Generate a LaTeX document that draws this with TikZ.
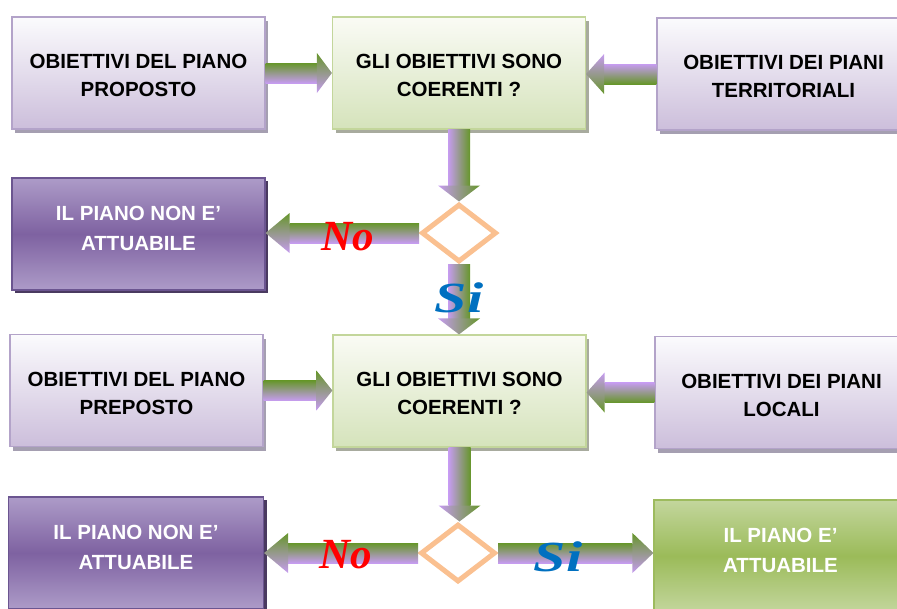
\documentclass[tikz,border=0pt]{standalone}
\usepackage{fontspec}
\setmainfont{Liberation Sans}
\newfontfamily\lblfont{Liberation Serif}
\usetikzlibrary{shapes.geometric,shadows,calc}

\definecolor{agreen}{HTML}{66962A}
\definecolor{apurple}{HTML}{C69CF0}
\definecolor{lpTop}{HTML}{FBFBFD}
\definecolor{lpBot}{HTML}{CCBEDB}
\definecolor{lpEdge}{HTML}{B3A3C9}
\definecolor{lpShadow}{HTML}{A59FB1}
\definecolor{qTop}{HTML}{FAFBF5}
\definecolor{qBot}{HTML}{D5E3BB}
\definecolor{qEdge}{HTML}{C3D69B}
\definecolor{qShadow}{HTML}{A8AB9E}
\definecolor{dpLight}{HTML}{AD9BC8}
\definecolor{dpDark}{HTML}{7E62A1}
\definecolor{dpEdge}{HTML}{6B5590}
\definecolor{dpShadow}{HTML}{4A3A60}
\definecolor{gLight}{HTML}{C3D69D}
\definecolor{gDark}{HTML}{9BBB59}
\definecolor{gEdge}{HTML}{9DBB5E}
\definecolor{gShadow}{HTML}{6E8640}
\definecolor{dOrange}{HTML}{FAC090}
\definecolor{noRed}{HTML}{FF0000}
\definecolor{siBlue}{HTML}{0070C0}

\newcommand\topstrut{\rule{0pt}{20pt}}
\newcommand\botstrut{\rule[-12pt]{0pt}{12pt}}

% horizontal block arrow: from, to, top colour, bottom colour, head length
\newcommand\harrow[5]{%
  \shade[top color=#3,bottom color=#4] let \p1=(#1), \p2=(#2), \n1={sign(\x2-\x1)} in
    (\x1,{\y1-10pt}) rectangle ({\x2-(\n1)*(#5)},{\y1+10pt});
  \shade[top color=#3,bottom color=#4] let \p1=(#1), \p2=(#2), \n1={sign(\x2-\x1)} in
    ({\x2-(\n1)*(#5)},{\y1+20pt}) -- (\x2,\y1) -- ({\x2-(\n1)*(#5)},{\y1-20pt}) -- cycle;
}
% vertical (downward) block arrow: from, to, left colour, right colour
\newcommand\varrow[4]{%
  \shade[left color=#3,right color=#4] let \p1=(#1), \p2=(#2) in
    ({\x1-11pt},\y1) rectangle ({\x1+11pt},{\y2+16pt});
  \shade[left color=#3,right color=#4] let \p1=(#1), \p2=(#2) in
    ({\x1-21pt},{\y2+16pt}) -- (\x1,\y2) -- ({\x1+21pt},{\y2+16pt}) -- cycle;
}

\tikzset{
  box/.style={rectangle, minimum width=253pt, minimum height=112pt, inner sep=0pt,
    line width=1.2pt, align=center, font=\fontsize{20.5}{28}\selectfont\bfseries},
  lbox/.style={box, draw=lpEdge, top color=lpTop, bottom color=lpBot,
    drop shadow={shadow xshift=3pt, shadow yshift=-4pt, fill=lpShadow, opacity=1}},
  qbox/.style={box, draw=qEdge, top color=qTop, bottom color=qBot,
    drop shadow={shadow xshift=3pt, shadow yshift=-4pt, fill=qShadow, opacity=1}},
  nbox/.style={box, draw=dpEdge, top color=dpLight, bottom color=dpLight, middle color=dpDark,
    text=white, font=\fontsize{20.5}{30}\selectfont\bfseries,
    drop shadow={shadow xshift=3pt, shadow yshift=-3pt, fill=dpShadow, opacity=1}},
  ybox/.style={box, draw=gEdge, top color=gLight, bottom color=gLight, middle color=gDark,
    text=white, font=\fontsize{20.5}{30}\selectfont\bfseries,
    drop shadow={shadow xshift=3pt, shadow yshift=-3pt, fill=gShadow, opacity=1}},
  choice/.style={diamond, draw=dOrange, line width=5pt, fill=white,
    minimum width=75pt, minimum height=58pt, inner sep=0pt},
  nolbl/.style={font=\lblfont\bfseries\itshape\fontsize{43}{43}\selectfont, text=noRed, inner sep=0pt},
  silbl/.style={font=\lblfont\bfseries\itshape\fontsize{43}{43}\selectfont, text=siBlue, inner sep=0pt},
}

\begin{document}
\begin{tikzpicture}[x=1pt,y=-1pt]
\useasboundingbox (0,0) rectangle (897,608);
\clip (0,0) rectangle (897,608);

% boxes
\node[lbox] (A) at (138.5,73) {\topstrut OBIETTIVI DEL PIANO\\PROPOSTO};
\node[qbox] (B) at (459,73) {\topstrut GLI OBIETTIVI SONO\\COERENTI ?};
\node[lbox] (C) at (783.5,74) {\topstrut OBIETTIVI DEI PIANI\\TERRITORIALI};
\node[nbox] (D) at (138.5,234) {IL PIANO NON E'\\ATTUABILE\botstrut};
\node[choice] (d1) at (459,233) {};

\node[lbox] (E) at (136.5,390.5) {\topstrut OBIETTIVI DEL PIANO\\PREPOSTO};
\node[qbox] (F) at (459.5,391) {\topstrut GLI OBIETTIVI SONO\\COERENTI ?};
\node[lbox] (G) at (781.5,392.5) {\topstrut OBIETTIVI DEI PIANI\\LOCALI};
\node[nbox, minimum width=255pt] (H) at (136,553) {IL PIANO NON E'\\ATTUABILE\botstrut};
\node[choice] (d2) at (458,553) {};
\node[ybox] (I) at (780.5,556) {IL PIANO E'\\ATTUABILE\botstrut};

% connectors
\harrow{A.east}{B.west}{agreen}{apurple}{15pt}
\harrow{C.west}{B.east}{apurple}{agreen}{18pt}
\varrow{B.south}{d1.north}{apurple}{agreen}
\harrow{d1.west}{D.east}{agreen}{apurple}{24pt}
\varrow{d1.south}{F.north}{apurple}{agreen}

\harrow{E.east}{F.west}{agreen}{apurple}{16pt}
\harrow{G.west}{F.east}{apurple}{agreen}{18pt}
\varrow{F.south}{d2.north}{apurple}{agreen}
\harrow{d2.west}{H.east}{agreen}{apurple}{24pt}
\harrow{d2.east}{I.west |- d2.east}{agreen}{apurple}{21pt}

% labels
\node[nolbl] (no1) at (348,237) {No};
\node[silbl] (si1) at (459,298) {\scalebox{1.35}[1]{Si}};
\node[nolbl] (no2) at (346,555) {No};
\node[silbl] (si2) at (558,557) {\scalebox{1.35}[1]{Si}};
\end{tikzpicture}
\end{document}
